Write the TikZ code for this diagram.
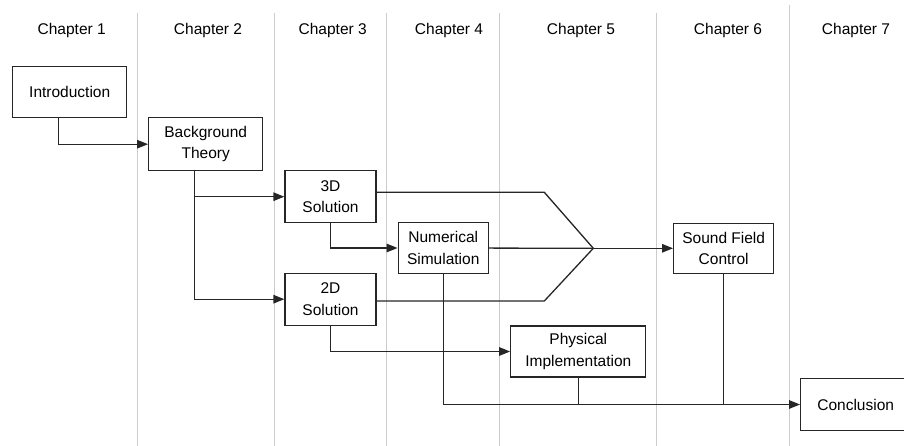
\documentclass[tikz,border=0pt]{standalone}
\usepackage{fontspec}
\setmainfont{Liberation Sans}
\usetikzlibrary{arrows.meta}
\tikzstyle{block} = [rectangle, draw, fill=white, align=center,
    inner sep=0pt, minimum height=52pt]
\tikzstyle{chap} = [anchor=base]
\tikzstyle{divider} = [-, draw=black!20, line width=1pt]

\begin{document}
\begin{tikzpicture}[->,>={Triangle[length=11pt,width=8.5pt]},x=1pt,y=-1pt,
                    line width=1.3pt,draw=black!85,
                    font=\fontsize{15.5}{21.5}\selectfont]
  \useasboundingbox (0,0) rectangle (904,446);
  \clip (0,0) rectangle (904,446);

  % chapter columns
  \foreach \x/\t in {137.7/13, 274/13, 386.7/13, 499.3/13, 656.7/13, 789.3/5}
    \draw[divider] (\x,\t) -- (\x,446);
  \foreach \n/\x in {1/71.7, 2/208, 3/332.7, 4/449, 5/581, 6/728, 7/856}
    \node[chap] (ch\n) at (\x,34.3) {Chapter \n};

  \node[block, minimum width=114pt, minimum height=51pt] (intro)  at (69.7,92.3)  {Introduction};
  \node[block, minimum width=114pt, minimum height=53pt] (theory) at (205.7,144.2) {Background\\Theory};
  \node[block, minimum width=91pt]                       (sol3d)  at (330.5,196.7) {3D\\Solution};
  \node[block, minimum width=90pt, minimum height=50.6pt] (numsim) at (443.2,248)  {Numerical\\Simulation};
  \node[block, minimum width=91pt]                       (sol2d)  at (330.5,299.2) {2D\\Solution};
  \node[block, minimum width=100pt, minimum height=50pt] (sfc)    at (723.7,248.3) {Sound Field\\Control};
  \node[block, minimum width=135pt, minimum height=51pt] (phys)   at (578.3,351.5) {Physical\\Implementation};
  \node[block, minimum width=110pt]                      (concl)  at (855.7,404.5) {Conclusion};

  \coordinate (bend3d) at (544.3,192.3);
  \coordinate (bend2d) at (544.3,301);
  \coordinate (merge)  at (593.3,248.3);

  \draw ([xshift=-11.4pt]intro.south)  |- (theory);
  \draw ([xshift=-11.4pt]theory.south) |- (sol3d);
  \draw ([xshift=-11.4pt]theory.south) |- (sol2d);
  \draw (sol3d.south) |- (numsim);
  \draw (sol2d.south) |- (phys);

  % the three results meet before sound field control
  \draw[-] (sol3d.east |- bend3d) -- (bend3d) -- (merge);
  \draw[-] (sol2d.east |- bend2d) -- (bend2d) -- (merge);
  \draw[-] (numsim) -- (merge);
  \draw (merge) -- (sfc);

  % everything goes on to the conclusion
  \draw (numsim.south) |- (concl);
  \draw[-] (phys.south) -- (phys.south |- concl);
  \draw[-] (sfc.south) -- (sfc.south |- concl);
\end{tikzpicture}
\end{document}
